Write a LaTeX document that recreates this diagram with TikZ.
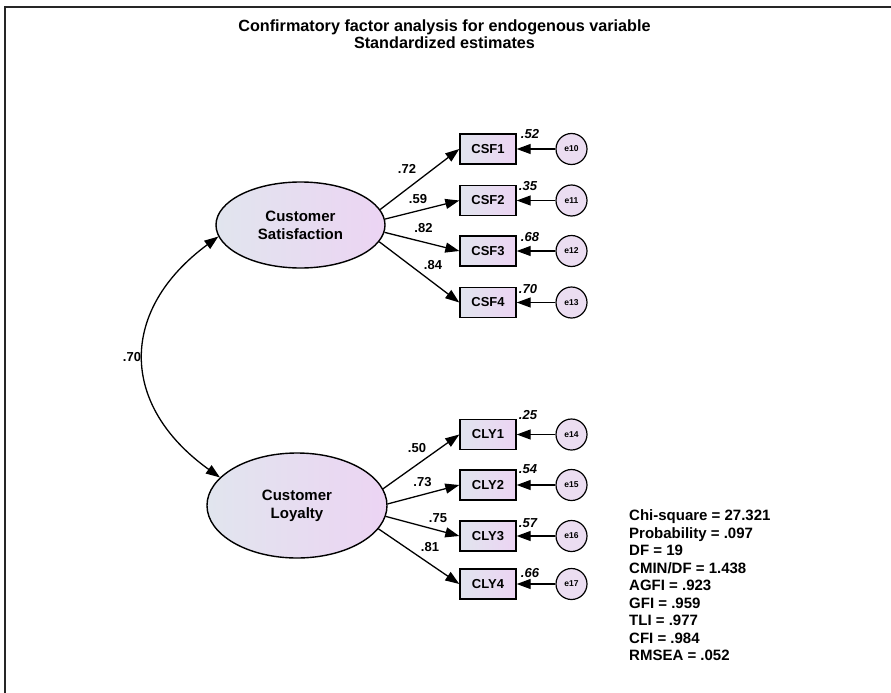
\documentclass[tikz,border=0pt]{standalone}
\usepackage{fontspec}
\setmainfont{Liberation Sans}
\usetikzlibrary{arrows.meta,shapes.geometric}
\definecolor{gl}{HTML}{E1E5EE}
\definecolor{gr}{HTML}{ECD4F3}
\definecolor{cf}{HTML}{EBDDF1}
\tikzset{
  lat/.style={ellipse,draw,line width=1.4pt,left color=gl,right color=gr,inner sep=0pt,align=center,font=\fontsize{15}{18}\selectfont\bfseries},
  obs/.style={rectangle,draw,line width=1.4pt,left color=gl,right color=gr,minimum width=56pt,minimum height=30pt,inner sep=0pt,font=\fontsize{13}{15}\selectfont\bfseries},
  err/.style={circle,draw,line width=1.2pt,fill=cf,minimum size=31pt,inner sep=0pt,font=\fontsize{8.5}{10}\selectfont\bfseries},
  arr/.style={line width=1.3pt,-{Triangle[length=14pt,width=10pt]}},
  darr/.style={line width=1.3pt,{Triangle[length=14pt,width=10pt]}-{Triangle[length=14pt,width=10pt]}},
  coef/.style={inner sep=0pt,font=\fontsize{13}{15}\selectfont\bfseries},
  rsq/.style={inner sep=0pt,font=\fontsize{13}{15}\selectfont\bfseries\itshape},
}
\begin{document}
\begin{tikzpicture}[x=1pt,y=-1pt]
\useasboundingbox (0,0) rectangle (891,693);
\draw[line width=2pt,black!85] (5,700) -- (5,7.5) -- (900,7.5);
\node[align=center,inner sep=0pt,font=\fontsize{16.2}{17}\selectfont\bfseries] (title) at (444.5,34) {Confirmatory factor analysis for endogenous variable\\Standardized estimates};

\node[lat,minimum width=169pt,minimum height=86pt] (cs) at (300.5,225) {Customer\\Satisfaction};
\node[lat,minimum width=180pt,minimum height=105pt] (cl) at (297,505.5) {Customer\\Loyalty};

\node[obs] (csf1) at (488,149) {CSF1};
\node[obs] (csf2) at (488,200.5) {CSF2};
\node[obs] (csf3) at (488,251) {CSF3};
\node[obs] (csf4) at (488,302.5) {CSF4};
\node[obs] (cly1) at (488,434.5) {CLY1};
\node[obs] (cly2) at (488,485) {CLY2};
\node[obs] (cly3) at (488,536) {CLY3};
\node[obs] (cly4) at (488,584) {CLY4};

\node[err] (e10) at (571.5,149) {e10};
\node[err] (e11) at (571.5,200.5) {e11};
\node[err] (e12) at (571.5,251) {e12};
\node[err] (e13) at (571.5,302.5) {e13};
\node[err] (e14) at (571.5,434.5) {e14};
\node[err] (e15) at (571.5,485) {e15};
\node[err] (e16) at (571.5,536) {e16};
\node[err] (e17) at (571.5,584) {e17};

\foreach \e/\b in {e10/csf1,e11/csf2,e12/csf3,e13/csf4,e14/cly1,e15/cly2,e16/cly3,e17/cly4}
  \draw[arr] (\e) -- (\b);

\draw[arr] (cs.11.4) -- (csf1.west);
\draw[arr] (cs.4) -- (csf2.west);
\draw[arr] (cs.-5.4) -- (csf3.west);
\draw[arr] (cs.-12.8) -- (csf4.west);
\draw[arr] (cl.11.9) -- (cly1.west);
\draw[arr] (cl.1.6) -- (cly2.west);
\draw[arr] (cl.-7.9) -- (cly3.west);
\draw[arr] (cl.-16.4) -- (cly4.west);

\draw[darr] (cs.188) .. controls (119,310) and (119,405) .. (cl.160);
\node[coef] (r70) at (132,357) {.70};

\node[coef] (l72) at (407,169) {.72};
\node[coef] (l59) at (418,199) {.59};
\node[coef] (l82) at (423.5,228) {.82};
\node[coef] (l84) at (433,265) {.84};
\node[coef] (l50) at (417,448) {.50};
\node[coef] (l73) at (422.5,482.5) {.73};
\node[coef] (l75) at (438,518.5) {.75};
\node[coef] (l81) at (430,547) {.81};

\node[rsq] (s52) at (530,134) {.52};
\node[rsq] (s35) at (528,186) {.35};
\node[rsq] (s68) at (530,237) {.68};
\node[rsq] (s70) at (528,289) {.70};
\node[rsq] (s25) at (528,415) {.25};
\node[rsq] (s54) at (528,469) {.54};
\node[rsq] (s57) at (528,523) {.57};
\node[rsq] (s66) at (530,573) {.66};

\node[anchor=north west,inner sep=0pt,align=left,font=\fontsize{15}{17.5}\selectfont\bfseries] (fit) at (629,509.5) {Chi-square = 27.321\\Probability = .097\\DF = 19\\CMIN/DF = 1.438\\AGFI = .923\\GFI = .959\\TLI = .977\\CFI = .984\\RMSEA = .052};
\end{tikzpicture}
\end{document}
